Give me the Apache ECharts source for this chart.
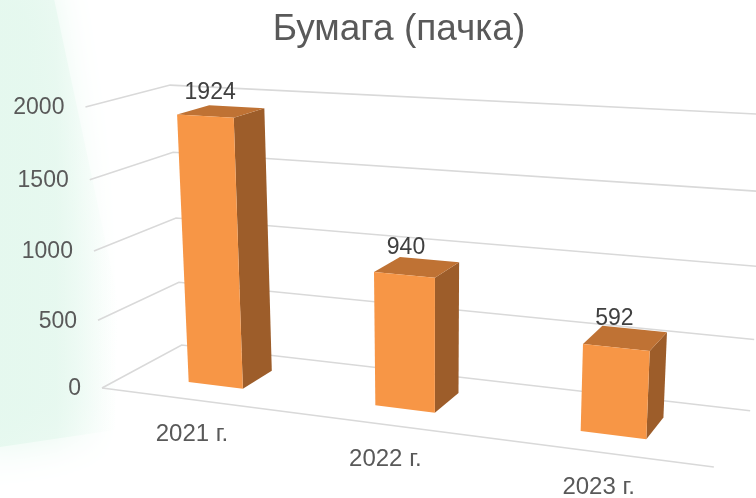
<!DOCTYPE html>
<html>
<head>
<meta charset="utf-8">
<script src="https://cdn.jsdelivr.net/npm/echarts@6/dist/echarts.min.js"></script>
<style>
  html, body { margin: 0; padding: 0; background: #fff; }
  #chart { width: 756px; height: 498px; }
</style>
</head>
<body>
<div id="chart"></div>
<script>
var categories = ['2021 г.', '2022 г.', '2023 г.'];
var values = [1924, 940, 592];
var yTicks = [0, 500, 1000, 1500, 2000];

// perspective camera: front-left floor corner + vanishing points (width / height / depth)
var O = [102, 388];
var VX = [-3736, -108], VY = [432, 5993], VZ = [1118, -160];
var SX = -0.1375, SY = -0.04774, SZ = 0.0851;
var FONT = '"Liberation Sans", Arial, sans-serif';

function proj(X, Y, Z) {
  var hx = O[0] + SX * X * VX[0] + SY * Y * VY[0] + SZ * Z * VZ[0];
  var hy = O[1] + SX * X * VX[1] + SY * Y * VY[1] + SZ * Z * VZ[1];
  var w = 1 + SX * X + SY * Y + SZ * Z;
  return [hx / w, hy / w];
}
// flat cartesian coord -> 0..1 box units
function norm(params, api, cat, val) {
  var cs = params.coordSys;
  var p = api.coord([cat, val]);
  return [(p[0] - cs.x) / cs.width, (cs.y + cs.height - p[1]) / cs.height];
}

function renderGrid(params, api) {
  var Y = norm(params, api, 0, api.value(1))[1];
  var lineStyle = { stroke: '#d9d9d9', lineWidth: 1.6, fill: null };
  var kids = [
    { type: 'polyline', shape: { points: [proj(0, Y, 0), proj(0, Y, 1), proj(1, Y, 1)] }, style: lineStyle }
  ];
  if (params.dataIndex === 0) {
    kids.push({ type: 'line', shape: { x1: proj(0, 0, 0)[0], y1: proj(0, 0, 0)[1], x2: proj(1, 0, 0)[0], y2: proj(1, 0, 0)[1] }, style: lineStyle });
  }
  var p = proj(0, Y, 0);
  kids.push({
    type: 'text', x: p[0] - 21, y: p[1] + 1,
    style: { text: String(api.value(1)), fill: '#595959', fontSize: 23, fontFamily: FONT, align: 'right', verticalAlign: 'middle' }
  });
  return { type: 'group', children: kids };
}

function renderBar(params, api) {
  var cs = params.coordSys;
  var c = norm(params, api, api.value(0), api.value(1));
  var half = api.size([1, 0])[0] / cs.width * 0.15;
  var x0 = c[0] - half, x1 = c[0] + half, y1 = c[1], z0 = 0.3, z1 = 0.7;
  var front = [proj(x0, 0, z0), proj(x1, 0, z0), proj(x1, y1, z0), proj(x0, y1, z0)];
  var side = [proj(x1, 0, z0), proj(x1, 0, z1), proj(x1, y1, z1), proj(x1, y1, z0)];
  var top = [proj(x0, y1, z0), proj(x1, y1, z0), proj(x1, y1, z1), proj(x0, y1, z1)];
  var lab = proj(c[0], y1, 0.5);
  var cat = proj(c[0], 0, 0);
  return {
    type: 'group',
    children: [
      { type: 'polygon', shape: { points: side }, style: { fill: '#9d5d2a' } },
      { type: 'polygon', shape: { points: top }, style: { fill: '#bf7234' } },
      { type: 'polygon', shape: { points: front }, style: { fill: '#f79646' } },
      {
        type: 'text', x: lab[0] - 11, y: lab[1] - 19,
        style: { text: String(api.value(1)), fill: '#404040', fontSize: 23, fontFamily: FONT, align: 'center', verticalAlign: 'middle' }
      },
      {
        type: 'text', x: cat[0], y: cat[1] + 35,
        style: { text: categories[api.value(0)], fill: '#595959', fontSize: 24, fontFamily: FONT, align: 'center', verticalAlign: 'middle' }
      }
    ]
  };
}

var chart = echarts.init(document.getElementById('chart'));
chart.setOption({
  backgroundColor: '#fff',
  animation: false,
  title: {
    text: 'Бумага (пачка)',
    left: 394, top: 6, textAlign: 'center',
    textStyle: { fontSize: 37, fontWeight: 'normal', color: '#595959', fontFamily: FONT }
  },
  graphic: [{
    type: 'polygon', z: -10, silent: true,
    shape: { points: [[-20, -20], [50, -20], [118, 300], [115, 430], [-20, 450]] },
    style: {
      shadowBlur: 40, shadowColor: 'rgba(225,247,236,1)',
      fill: {
        type: 'linear', x: 0, y: 0, x2: 1, y2: 0,
        colorStops: [
          { offset: 0, color: 'rgba(228,248,238,0.9)' },
          { offset: 0.55, color: 'rgba(230,248,239,0.75)' },
          { offset: 1, color: 'rgba(240,252,246,0)' }
        ]
      }
    }
  }],
  grid: { left: 0, top: 0, right: 0, bottom: 0 },
  xAxis: { type: 'category', data: categories, show: false },
  yAxis: { type: 'value', min: 0, max: 2000, interval: 500, show: false },
  series: [
    {
      type: 'custom', z: 1, renderItem: renderGrid,
      data: yTicks.map(function (t) { return [0, t]; }),
      encode: { x: 0, y: 1 }
    },
    {
      type: 'custom', z: 2, renderItem: renderBar,
      data: values.map(function (v, i) { return [i, v]; }),
      encode: { x: 0, y: 1 }
    }
  ]
});
</script>
</body>
</html>
